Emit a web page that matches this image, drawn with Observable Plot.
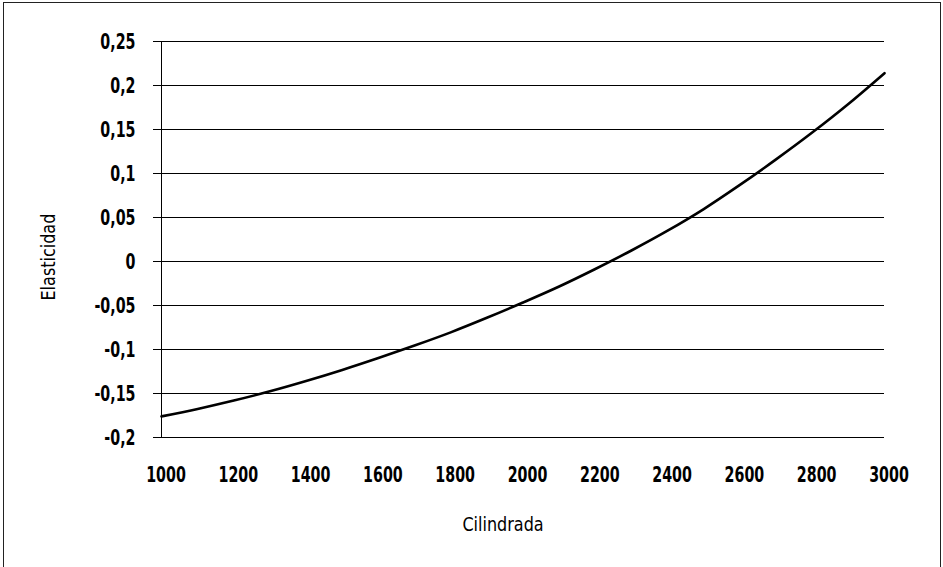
<!DOCTYPE html>
<html>
<head>
<meta charset="utf-8">
<script src="https://cdn.jsdelivr.net/npm/d3@7"></script>
<script src="https://cdn.jsdelivr.net/npm/@observablehq/plot@0.6"></script>
<style>
  html, body { margin: 0; padding: 0; background: #fff; }
  #wrap { position: relative; width: 943px; height: 567px; overflow: hidden; }
  #frame { position: absolute; left: 3px; top: 2px; width: 938px; height: 600px; border: 1px solid #222; box-sizing: border-box; pointer-events: none; }
  svg { display: block; }
</style>
</head>
<body>
<div id="wrap"><div id="frame"></div></div>
<script>
const cilindrada = [1000, 1100, 1200, 1300, 1400, 1500, 1600, 1700, 1800, 1900, 2000, 2100, 2200, 2300, 2400, 2500, 2600, 2700, 2800, 2900, 3000];
const elasticidad = [-0.176, -0.1675, -0.158, -0.1475, -0.1358, -0.1232, -0.1097, -0.0955, -0.0805, -0.064, -0.0466, -0.0284, -0.0085, 0.0125, 0.035, 0.0596, 0.087, 0.116, 0.1465, 0.179, 0.214];
const xTicks = [1000, 1200, 1400, 1600, 1800, 2000, 2200, 2400, 2600, 2800, 3000];
const yTicks = [-0.2, -0.15, -0.1, -0.05, 0, 0.05, 0.1, 0.15, 0.2, 0.25];
const xTitle = "Cilindrada";
const yTitle = "Elasticidad";

const data = cilindrada.map((c, i) => ({c, e: elasticidad[i]}));
const font = '"DejaVu Sans Condensed", "DejaVu Sans", sans-serif';
const fmtY = d => String(+d.toFixed(2)).replace(".", ",");

const chart = Plot.plot({
  width: 943,
  height: 567,
  marginLeft: 161,
  marginRight: 59,
  marginTop: 41,
  marginBottom: 130,
  style: {fontFamily: font, fontSize: "22px", color: "#000", background: "transparent"},
  x: {domain: [1000, 3000]},
  y: {domain: [-0.2, 0.25]},
  marks: [
    Plot.gridY(yTicks, {stroke: "#000", strokeOpacity: 1, strokeWidth: 1}),
    Plot.ruleX([1000], {stroke: "#000", strokeWidth: 1}),
    Plot.axisY({ticks: yTicks, tickSize: 8, tickPadding: 18, tickFormat: fmtY, label: null, stroke: "#000", fontSize: 22, fontWeight: "bold"}),
    Plot.axisX({ticks: xTicks, tickSize: 0, tickPadding: 29, dx: 4.5, tickFormat: d => String(d), label: null, fontSize: 22, fontWeight: "bold"}),
    Plot.line(data, {x: "c", y: "e", stroke: "#000", strokeWidth: 2.6, curve: "monotone-x"}),
    Plot.text([yTitle], {text: d => d, frameAnchor: "left", rotate: -90, dx: -113, dy: 61, fontSize: 20, fill: "#000"}),
    Plot.text([xTitle], {text: d => d, frameAnchor: "bottom", dx: -20, dy: 93, fontSize: 20, fill: "#000"})
  ]
});
document.getElementById("wrap").prepend(chart);

// condense glyphs horizontally to imitate the narrow typeface of the original
chart.querySelectorAll("text").forEach(t => {
  const s = t.textContent;
  const ratio = (s === xTitle || s === yTitle) ? 0.89 : 0.72;
  const len = t.getComputedTextLength();
  if (len > 0) {
    t.setAttribute("textLength", (len * ratio).toFixed(2));
    t.setAttribute("lengthAdjust", "spacingAndGlyphs");
  }
});
</script>
</body>
</html>
